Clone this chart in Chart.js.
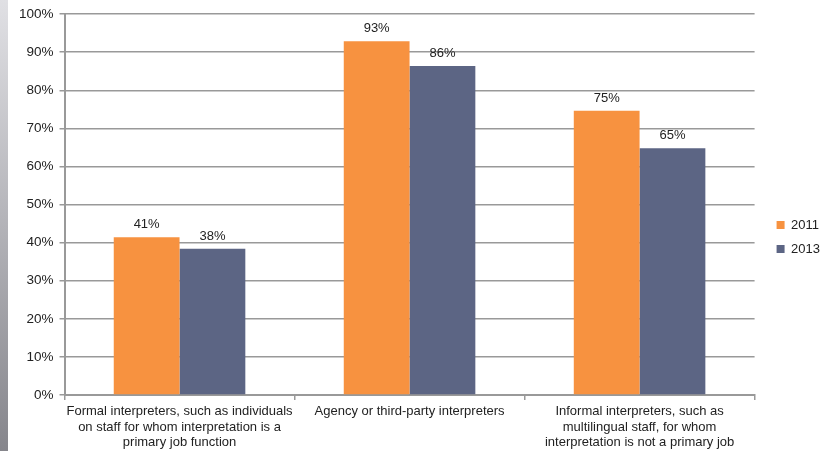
<!DOCTYPE html>
<html><head><meta charset="utf-8">
<script src="https://cdn.jsdelivr.net/npm/chart.js@4/dist/chart.umd.min.js"></script>
<style>
html,body{margin:0;padding:0;background:#fff;}
#wrap{position:relative;width:839px;height:451px;}
#strip{position:absolute;left:0;top:0;width:8px;height:451px;background:linear-gradient(#e0e0e4,#86868c);}
canvas{position:absolute;left:0;top:0;}
</style></head>
<body><div id="wrap"><div id="strip"></div><canvas id="c" width="839" height="451"></canvas></div>
<script>
const categories = [
  ["Formal interpreters, such as individuals","on staff for whom interpretation is a","primary job function"],
  "Agency or third-party interpreters",
  ["Informal interpreters, such as","multilingual staff, for whom","interpretation is not a primary job"]
];
const seriesNames = ["2011","2013"];
const values2011 = [41.4, 92.9, 74.6];
const values2013 = [38.4, 86.4, 64.8];
const yTicks = [0,10,20,30,40,50,60,70,80,90,100];

const FONT = "'Liberation Sans', Arial, sans-serif";
const labelPlugin = {
  id:'barLabels',
  beforeInit(chart){
    if (chart.legend) {
      const lg = chart.legend;
      const origFit = lg.fit;
      lg.fit = function(){ origFit.call(this); this.width += 16; };
      const origDraw = lg.draw;
      lg.draw = function(){
        const c = this.ctx;
        c.save(); c.translate(11, 4);
        origDraw.call(this);
        c.restore();
      };
    }
  },
  afterDatasetsDraw(chart){
    const ctx = chart.ctx;
    ctx.save();
    ctx.font = "13px " + FONT;
    ctx.fillStyle = "#222";
    ctx.textAlign = "center";
    ctx.textBaseline = "bottom";
    chart.data.datasets.forEach((ds,i)=>{
      chart.getDatasetMeta(i).data.forEach((bar,j)=>{
        ctx.fillText(Math.round(ds.data[j]) + "%", bar.x, bar.y - 6);
      });
    });
    ctx.restore();
  }
};

new Chart(document.getElementById('c'), {
  type:'bar',
  data:{
    labels: categories,
    datasets:[
      {label:seriesNames[0], data:values2011, backgroundColor:'#f79240'},
      {label:seriesNames[1], data:values2013, backgroundColor:'#5c6584'}
    ]
  },
  options:{
    responsive:false,
    animation:false,
    devicePixelRatio:1,
    layout:{padding:{top:12,right:4,left:13,bottom:-3}},
    datasets:{bar:{categoryPercentage:0.572, barPercentage:1.0}},
    plugins:{
      legend:{position:'right', labels:{boxWidth:8, boxHeight:8, padding:11, color:'#222', font:{family:FONT,size:13}}},
      tooltip:{enabled:false}
    },
    scales:{
      x:{
        grid:{offset:true, drawOnChartArea:false, drawTicks:true, tickLength:5, color:'#999', lineWidth:1.5},
        border:{display:true, color:'#999', width:2},
        ticks:{color:'#222', font:{family:FONT,size:13, lineHeight:1.18}, maxRotation:0, autoSkip:false, padding:4}
      },
      y:{
        min:0, max:100,
        afterBuildTicks(s){ s.ticks = yTicks.map(v=>({value:v})); },
        grid:{color:'#999', lineWidth:1.5, tickLength:5},
        border:{display:true, color:'#999', width:2},
        ticks:{color:'#222', font:{family:FONT,size:13.5}, padding:6, callback:v=>v+'%'}
      }
    }
  },
  plugins:[labelPlugin]
});
</script></body></html>
